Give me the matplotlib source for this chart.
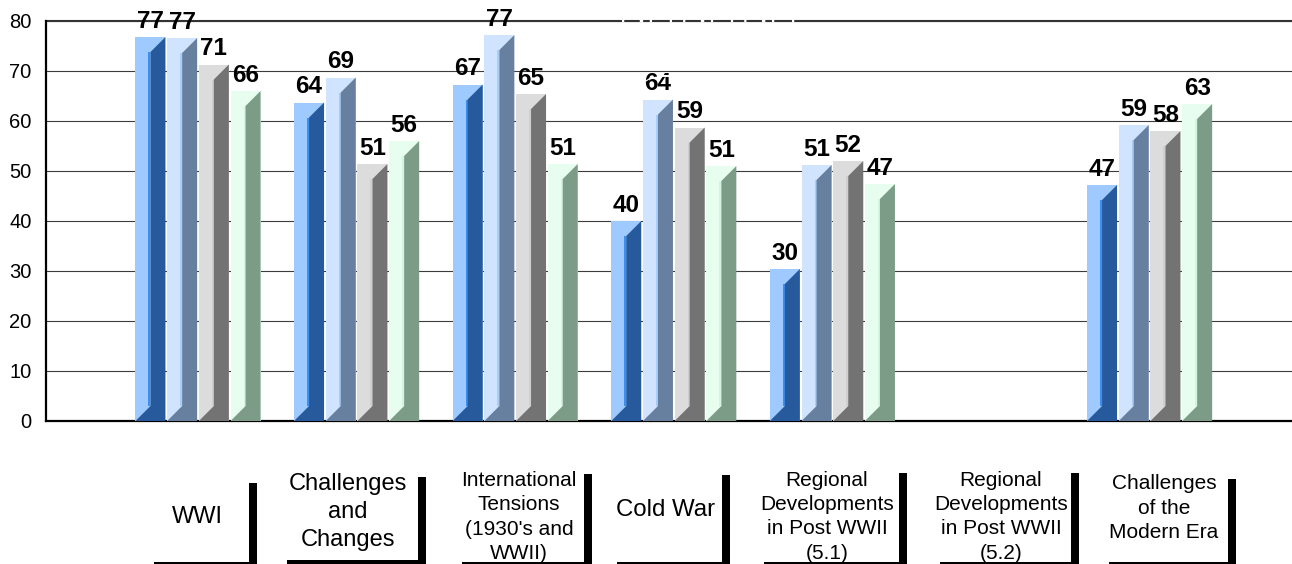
import matplotlib
matplotlib.use("Agg")
import matplotlib.pyplot as plt
from matplotlib.patches import Polygon, Rectangle

plt.rcParams['font.family'] = ['Liberation Sans', 'DejaVu Sans']

# one row per series, one column per category (None = no data)
series1 = [76.8, 63.7, 67.3, 40.0, 30.4, None, 47.2]
series2 = [76.6, 68.7, 77.2, 64.3, 51.2, None, 59.2]
series3 = [71.3, 51.4, 65.4, 58.7, 52.0, None, 58.0]
series4 = [66.0, 56.0, 51.4, 51.0, 47.4, None, 63.4]
yticks = [0, 10, 20, 30, 40, 50, 60, 70, 80]

categories = [
    ["WWI"],
    ["Challenges", "and", "Changes"],
    ["International", "Tensions", "(1930's and", "WWII)"],
    ["Cold War"],
    ["Regional", "Developments", "in Post WWII", "(5.1)"],
    ["Regional", "Developments", "in Post WWII", "(5.2)"],
    ["Challenges", "of the", "Modern Era"],
]

# colours per series: front, side, inner strip
colors = [
    ("#9FCAFF", "#265A9C", "#3C8EF2"),
    ("#D0E4FF", "#68809F", "#A9CDF9"),
    ("#DCDCDC", "#737373", "#CFCFCF"),
    ("#E6FDEF", "#7C9C88", "#D2F5DF"),
]

W, H = 1292, 564
fig = plt.figure(figsize=(W / 100, H / 100), dpi=100)

# plot area in pixels
left, right, top, bottom = 46, 1292, 21, 421
ax = fig.add_axes([left / W, 1 - bottom / H, (right - left) / W, (bottom - top) / H])
group_px = 158.6
first_center = 198
ax.set_xlim((left - first_center) / group_px, (right - first_center) / group_px)
ax.set_ylim(0, 80)

bar_w = 30 / group_px
step = 31.7 / group_px
dx = 15 / group_px
dy = 15 / 5.0
strip = 2 / group_px

for spine in ['top', 'right']:
    ax.spines[spine].set_visible(False)
ax.spines['left'].set_linewidth(1.6)
ax.spines['bottom'].set_linewidth(1.6)
ax.set_xticks([])
ax.set_yticks(yticks)
ax.tick_params(axis='y', length=0, pad=10.5, labelsize=14.5)
ax.set_axisbelow(True)
ax.grid(axis='y', color="#3c3c3c", linewidth=0.8)
ax.axhline(80, color="#333333", linewidth=1.5, clip_on=False, zorder=1)
ax.patch.set_alpha(0)

all_series = [series1, series2, series3, series4]
for s, values in enumerate(all_series):
    front, side, inner = colors[s]
    for i, v in enumerate(values):
        if v is None:
            continue
        x0 = i + (s - 2) * step + (step - bar_w) / 2
        ax.bar(x0, v, width=bar_w, align='edge', color=front, zorder=3)
        ax.add_patch(Polygon([(x0 + dx - strip, dy), (x0 + dx, dy), (x0 + dx, v - dy), (x0 + dx - strip, v - dy)],
                             closed=True, facecolor=inner, edgecolor='none', zorder=4))
        ax.add_patch(Polygon([(x0, 0), (x0 + bar_w, 0), (x0 + bar_w, v), (x0 + dx, v - dy), (x0 + dx, dy)],
                             closed=True, facecolor=side, edgecolor='none', zorder=5))
        ax.annotate(f"{v:.0f}", (x0 + bar_w / 2, v), xytext=(0, 3), textcoords='offset points',
                    ha='center', va='bottom', fontsize=17.5, fontweight='bold', color='black',
                    zorder=6, annotation_clip=False)

# overlay in pixel coordinates for the category boxes
ov = fig.add_axes([0, 0, 1, 1], zorder=10)
ov.set_xlim(0, W)
ov.set_ylim(H, 0)
ov.axis('off')

# left edge, post left edge, post top, bottom thickness
boxes = [
    (154, 249, 483, 2),
    (287, 418, 477, 4),
    (462, 584, 474, 2),
    (617, 722, 475, 2),
    (764, 899, 473, 2),
    (940, 1071, 473, 2),
    (1109, 1228, 479, 2),
]
# centre x, first baseline, line pitch, font size
text_layout = [
    (197, 523, 0, 17),
    (348, 490, 28, 17),
    (519, 486, 24.4, 15),
    (666, 516, 0, 17.3),
    (827, 486, 24.2, 15),
    (1001, 486, 24.2, 15),
    (1164, 489, 24.5, 15),
]
for lines, box, lay in zip(categories, boxes, text_layout):
    x_left, x_post, y_top, thick = box
    ov.add_patch(Rectangle((x_post, y_top), 8, 564 - y_top, facecolor='black', edgecolor='none'))
    ov.add_patch(Rectangle((x_left, 564 - thick), x_post - x_left, thick, facecolor='black', edgecolor='none'))
    cx, base, pitch, size = lay
    for n, line in enumerate(lines):
        ov.text(cx, base + n * pitch, line, ha='center', va='baseline', fontsize=size, color='black')

# white remains of hidden text over the top gridline and the 64 label
ov.plot([622, 797], [21, 21], color='white', linewidth=1.6, dashes=(1, 7, 1.5, 3, 1, 8, 1, 5))
ov.plot([646, 652, 658], [81, 77, 80], color='white', linewidth=0.8)
ov.plot([661, 671], [76, 76], color='white', linewidth=1.4)

fig.savefig("out.png", dpi=100)
